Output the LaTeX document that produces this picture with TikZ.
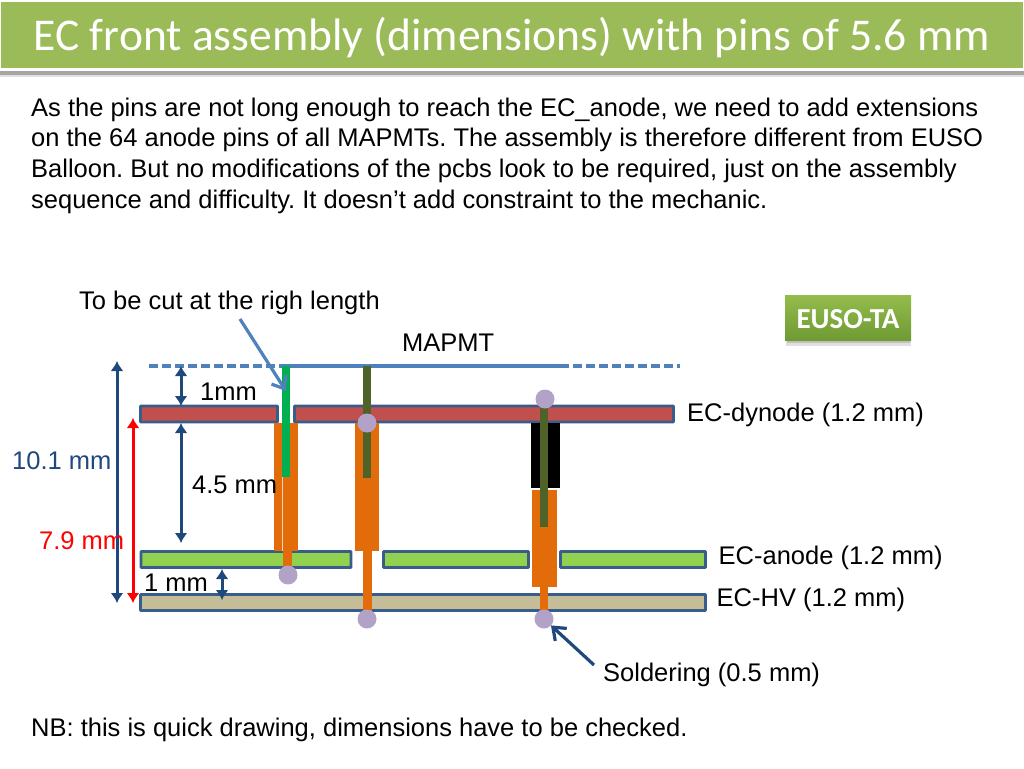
\documentclass[tikz,border=0pt]{standalone}
\usepackage{fontspec}
\setmainfont{Liberation Sans}
\newfontfamily\titlefont{Carlito}
\usetikzlibrary{arrows.meta}
\definecolor{barGreen}{HTML}{9BBB59}
\definecolor{edgeBlue}{HTML}{385D8A}
\definecolor{lineBlue}{HTML}{4F81BD}
\definecolor{darkBlue}{HTML}{1F497D}
\definecolor{dynRed}{HTML}{C0504D}
\definecolor{anodeGreen}{HTML}{92D050}
\definecolor{hvTan}{HTML}{C4BD97}
\definecolor{pinOrange}{HTML}{E36C0A}
\definecolor{pinGreen}{HTML}{00B050}
\definecolor{pinOlive}{HTML}{4F6228}
\definecolor{solder}{HTML}{B3A2C7}
\definecolor{tagTop}{HTML}{93BC4C}
\definecolor{tagBot}{HTML}{6F9A33}
\tikzset{
  board/.style={draw=edgeBlue,line width=2.8pt,inner sep=0pt,outer sep=0pt,rounded corners=0.6pt},
  block/.style={inner sep=0pt,outer sep=0pt,draw=none},
  dot/.style={circle,fill=solder,inner sep=0pt,outer sep=0pt,minimum size=19pt},
  label/.style={inner sep=0pt,font=\frenchspacing\fontsize{25.5}{30}\selectfont,text=black},
  dim/.style={line width=3pt,{Latex[length=10pt,width=13pt]}-{Latex[length=10pt,width=13pt]}},
  pointer/.style={line width=3.2pt,-{Straight Barb[length=11pt,width=17pt]}},
  plate/.style={line width=3.2pt,lineBlue}
}
\begin{document}
\begin{tikzpicture}[x=1pt,y=-1pt]
\useasboundingbox (0,0) rectangle (1024,768);
\fill[white] (0,0) rectangle (1024,768);
% title band
\fill[black!35] (0,71) rectangle (1024,74.5);
\fill[black!12] (0,74.5) rectangle (1024,77);
\node[block,fill=barGreen,minimum width=1022pt,minimum height=66pt] (titlebar) at (512,35) {};
\node[inner sep=0pt,text=white,font=\titlefont\fontsize{45.5}{52}\selectfont] (title) at (512,37.5) {EC front assembly (dimensions) with pins of 5.6 mm};
% paragraph
\node[inner sep=0pt,anchor=north west,align=left,font=\frenchspacing\fontsize{25.5}{30.67}\selectfont] (para) at (31,97.5)
 {As the pins are not long enough to reach the EC\_anode, we need to add extensions\\
  on the 64 anode pins of all MAPMTs. The assembly is therefore different from EUSO\\
  Balloon. But no modifications of the pcbs look to be required, just on the assembly\\
  sequence and difficulty. It doesn’t add constraint to the mechanic.};
% EUSO-TA tag
\fill[black!12] (786,340) rectangle (911,346);
\fill[black!25] (787,340) rectangle (910,343);
\node[block,top color=tagTop,bottom color=tagBot,minimum width=126pt,minimum height=45pt] (tag) at (848,318) {};
\node[inner sep=0pt,text=white,font=\titlefont\bfseries\fontsize{29}{32}\selectfont] (tagtext) at (848,319.5) {EUSO-TA};
% MAPMT plane
\coordinate (pL) at (149,366); \coordinate (pA) at (283,366);
\coordinate (pB) at (560,366); \coordinate (pR) at (680,366);
\draw[plate,dash pattern=on 9pt off 4pt] (pL) -- (pA);
\draw[plate] (pA) -- (pB);
\draw[plate,dash pattern=on 9pt off 4pt] (pB) -- (pR);
% boards
\node[board,fill=dynRed,minimum width=137pt,minimum height=16pt] (dyn1) at (209,414) {};
\node[board,fill=dynRed,minimum width=379pt,minimum height=16pt] (dyn2) at (484,414) {};
\node[board,fill=anodeGreen,minimum width=210pt,minimum height=16pt] (an1) at (246,559.5) {};
\node[board,fill=anodeGreen,minimum width=145pt,minimum height=16pt] (an2) at (456,559.5) {};
\node[board,fill=anodeGreen,minimum width=145pt,minimum height=16pt] (an3) at (633,559.5) {};
\node[board,fill=hvTan,minimum width=565pt,minimum height=16pt] (hv) at (423,602.5) {};
% pin 1
\node[block,fill=pinOrange,minimum width=24pt,minimum height=128pt] (o1) at (286,487) {};
\draw[white!70!pinOrange,line width=0.5pt] (282,477) -- (282,551);
\node[block,fill=pinOrange,minimum width=9pt,minimum height=18pt] (s1) at (287.5,560) {};
\node[block,fill=pinGreen,minimum width=8pt,minimum height=111pt] (g1) at (286,421.5) {};
\node[dot] (d1) at (288,575) {};
% pin 2
\node[block,fill=pinOrange,minimum width=24pt,minimum height=128pt] (o2) at (367,487) {};
\node[block,fill=pinOrange,minimum width=9pt,minimum height=60pt] (s2) at (367,581) {};
\node[block,fill=pinOlive,minimum width=8pt,minimum height=112pt] (g2) at (367,422) {};
\node[dot] (d2) at (367,423) {};
\node[dot] (d3) at (367,619) {};
% pin 3
\node[block,fill=black,minimum width=29pt,minimum height=65pt] (b3) at (545.5,455.5) {};
\node[block,fill=pinOrange,minimum width=25pt,minimum height=97pt] (o3) at (544.5,538.5) {};
\node[block,fill=pinOrange,minimum width=8pt,minimum height=24pt] (s3) at (544,598.5) {};
\node[block,fill=pinOlive,minimum width=8pt,minimum height=119pt] (g3) at (544,467.5) {};
\node[dot] (d4) at (545,399) {};
\node[dot] (d5) at (544,619) {};
% dimensions
\coordinate (a1t) at (117,361); \coordinate (a1b) at (117,603);
\coordinate (a2t) at (133,418); \coordinate (a2b) at (133,603);
\coordinate (a3t) at (181,366); \coordinate (a3b) at (181,406);
\coordinate (a4t) at (181,423); \coordinate (a4b) at (181,543);
\coordinate (a5t) at (222,569); \coordinate (a5b) at (222,600);
\draw[dim,darkBlue] (a1t) -- (a1b);
\draw[dim,red] (a2t) -- (a2b);
\draw[dim,darkBlue] (a3t) -- (a3b);
\draw[dim,darkBlue] (a4t) -- (a4b);
\draw[dim,darkBlue] (a5t) -- (a5b);
% labels
\node[label,anchor=west] (cut) at (79,303) {To be cut at the righ length};
\node[label,anchor=west] (mapmt) at (402,343) {MAPMT};
\node[label,anchor=west] (mm1) at (200,392) {1mm};
\node[label,anchor=west] (mm45) at (192,485) {4.5 mm};
\node[label,anchor=west,text=darkBlue] (mm101) at (12,461) {10.1 mm};
\node[label,anchor=west,text=red] (mm79) at (39,541) {7.9 mm};
\node[label,anchor=west] (mm1b) at (144,583) {1 mm};
\node[label,anchor=west] (ldyn) at (687,415) {EC-dynode (1.2 mm)};
\node[label,anchor=west] (lan) at (718.5,558) {EC-anode (1.2 mm)};
\node[label,anchor=west] (lhv) at (716.5,600) {EC-HV (1.2 mm)};
\node[label,anchor=west] (lsol) at (603,675) {Soldering (0.5 mm)};
\node[label,anchor=west] (nb) at (31,730) {NB: this is quick drawing, dimensions have to be checked.};
% pointers
\coordinate (c1) at (240,319); \coordinate (c2) at (286,391);
\draw[pointer,lineBlue] (c1) -- (c2);
\coordinate (c3) at (594,665);
\draw[pointer,darkBlue] (c3) -- (d5);
\end{tikzpicture}
\end{document}
